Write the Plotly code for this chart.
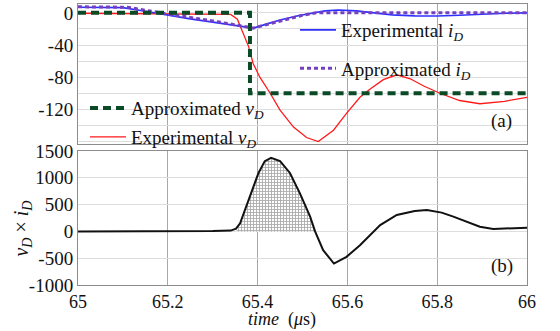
import plotly.graph_objects as go

# ---------------- data ----------------
# Panel (a): experimental diode current i_D
t_id_exp = [65.0, 65.05, 65.10, 65.15, 65.20, 65.25, 65.30, 65.35, 65.39, 65.42, 65.45, 65.49,
            65.52, 65.55, 65.58, 65.62, 65.66, 65.70, 65.75, 65.80, 65.85, 65.90, 65.95, 66.0]
id_exp = [7, 7, 6.5, 2, -3, -7.5, -11.5, -15.5, -19, -14, -9, -3.5,
          -0.5, 2.5, 3.5, 2.5, 0, -2.5, -3.8, -4, -3, -1.5, -0.5, 0]

# Panel (a): approximated diode current i_D
t_id_apx = [65.0, 65.05, 65.11, 65.20, 65.30, 65.39, 65.43, 65.47, 65.50, 65.53, 65.60, 66.0]
id_apx = [7.5, 7.5, 7, -1.5, -10, -19, -13, -7, -3, 0, 0, 0]

# Panel (a): approximated diode voltage v_D
t_vd_apx = [65.0, 65.383, 65.383, 66.0]
vd_apx = [0, 0, -100, -100]

# Panel (a): experimental diode voltage v_D
t_vd_exp = [65.0, 65.1, 65.2, 65.3, 65.34, 65.355, 65.368, 65.380, 65.390, 65.405, 65.428, 65.450,
            65.480, 65.509, 65.535, 65.569, 65.598, 65.628, 65.65, 65.68, 65.71, 65.74, 65.77,
            65.806, 65.85, 65.895, 65.95, 66.0]
vd_exp = [-0.5, -1, -1, -1.5, -2, -8, -25, -42, -63, -80, -100, -121,
          -142, -155, -160, -146, -125, -105, -95, -83, -77, -82, -91,
          -100, -109, -113, -110, -105]

# Panel (b): instantaneous power v_D x i_D
t_p = [65.0, 65.1, 65.2, 65.3, 65.34, 65.352, 65.361, 65.383, 65.402, 65.416, 65.43, 65.45,
       65.472, 65.494, 65.517, 65.528, 65.546, 65.57, 65.598, 65.628, 65.673, 65.71, 65.75,
       65.777, 65.81, 65.836, 65.87, 65.895, 65.925, 65.96, 66.0]
p = [0, 0, -5, 5, 15, 50, 150, 650, 1090, 1310, 1370, 1310,
     1090, 714, 276, 0, -350, -600, -475, -257, 118, 306, 380,
     400, 350, 276, 160, 88, 44, 50, 70]

# Hatched (energy) region of panel (b)
t_hatch = [65.352, 65.361, 65.383, 65.402, 65.416, 65.43, 65.45, 65.472, 65.494, 65.517, 65.528]
p_hatch = [0, 150, 650, 1090, 1310, 1370, 1310, 1090, 714, 276, 0]

xticks = [65, 65.2, 65.4, 65.6, 65.8, 66]
xtick_text = ["65", "65.2", "65.4", "65.6", "65.8", "66"]
yticks_a = [0, -20, -40, -60, -80, -100, -120, -140, -160]
ytick_text_a = ["0", "", "-40", "", "-80", "", "-120", "", ""]
yticks_b = [1500, 1000, 500, 0, -500, -1000]
ytick_text_b = ["1500", "1000", "500", "0", "-500", "-1000"]

# ---------------- figure ----------------
FONT = "Liberation Serif"
TF = dict(family=FONT, size=19, color="#111")
TFX = dict(family=FONT, size=18, color="#111")
fig = go.Figure()

fig.add_trace(go.Scatter(x=t_vd_exp, y=vd_exp, mode="lines", line=dict(color="#ff1a1a", width=1.3),
                         name="Experimental <i>v<sub>D</sub></i>", legend="legend4",
                         xaxis="x", yaxis="y"))
fig.add_trace(go.Scatter(x=t_id_exp, y=id_exp, mode="lines", line=dict(color="#2f2fff", width=1.6),
                         name="Experimental <i>i<sub>D</sub></i>", legend="legend",
                         xaxis="x", yaxis="y"))
fig.add_trace(go.Scatter(x=t_id_apx, y=id_apx, mode="lines",
                         line=dict(color="#7440c0", width=3, dash="4px,3px"),
                         name="Approximated <i>i<sub>D</sub></i>", legend="legend2",
                         xaxis="x", yaxis="y"))
fig.add_trace(go.Scatter(x=t_vd_apx, y=vd_apx, mode="lines",
                         line=dict(color="#0b4a26", width=4, dash="8px,5px"),
                         name="Approximated <i>v<sub>D</sub></i>", legend="legend3",
                         xaxis="x", yaxis="y"))

fig.add_trace(go.Scatter(x=t_hatch, y=p_hatch, mode="lines", fill="tozeroy",
                         line=dict(width=0, color="rgba(0,0,0,0)"),
                         fillcolor="rgba(255,255,255,0)",
                         fillpattern=dict(shape="+", size=3, fgcolor="#555555", bgcolor="#ffffff",
                                          solidity=0.5),
                         showlegend=False, xaxis="x2", yaxis="y2"))
fig.add_trace(go.Scatter(x=t_p, y=p, mode="lines", line=dict(color="#111111", width=2),
                         showlegend=False, xaxis="x2", yaxis="y2"))

axis_common = dict(showline=True, mirror=True, linecolor="#8c8c8c", linewidth=1,
                   zeroline=False, range=[65, 66], tickvals=xticks, automargin=False,
                   gridcolor="#a8a8a8", gridwidth=1, tickfont=TFX)

leg = dict(xanchor="left", yanchor="top", bgcolor="rgba(0,0,0,0)",
           font=dict(family=FONT, size=19, color="#111"), itemwidth=36)

fig.update_layout(
    width=560, height=331,
    margin=dict(l=78, r=33, t=4, b=46, autoexpand=False),
    paper_bgcolor="white", plot_bgcolor="white",
    font=dict(family=FONT, size=19, color="#111"),
    xaxis=dict(axis_common, domain=[0, 1], anchor="y", showticklabels=False),
    yaxis=dict(domain=[0.502, 1], range=[-163, 11], tickvals=yticks_a, ticktext=ytick_text_a,
               showline=True, mirror=True, linecolor="#8c8c8c", zeroline=False, automargin=False,
               gridcolor="#dedede", ticks="", anchor="x", tickfont=TF),
    xaxis2=dict(axis_common, domain=[0, 1], anchor="y2", ticktext=xtick_text),
    yaxis2=dict(domain=[0, 0.477], range=[-1000, 1500], tickvals=yticks_b, ticktext=ytick_text_b,
                showline=True, mirror=True, linecolor="#8c8c8c", zeroline=False, automargin=False,
                gridcolor="#dedede", ticks="", anchor="x2", tickfont=TF),
    legend=dict(leg, x=0.4833, y=0.975),
    legend2=dict(leg, x=0.4833, y=0.838),
    legend3=dict(leg, x=0.0156, y=0.697),
    legend4=dict(leg, x=0.0156, y=0.594),
    annotations=[
        dict(text="(a)", x=0.944, y=0.584, xref="paper", yref="paper", showarrow=False,
             xanchor="center", yanchor="middle", font=TF),
        dict(text="(b)", x=0.944, y=0.068, xref="paper", yref="paper", showarrow=False,
             xanchor="center", yanchor="middle", font=TF),
        dict(text="<i>v<sub>D</sub></i> × <i>i<sub>D</sub></i>", x=-0.123, y=0.2,
             xref="paper", yref="paper", showarrow=False, textangle=-90,
             xanchor="center", yanchor="middle",
             font=dict(family=FONT, size=20, color="#111")),
        dict(text="<i>time</i>  (<i>μ</i>s)", x=0.454, y=-0.124, xref="paper", yref="paper",
             showarrow=False, xanchor="center", yanchor="middle",
             font=dict(family=FONT, size=18, color="#111")),
    ],
)

fig.write_html("out.html")
